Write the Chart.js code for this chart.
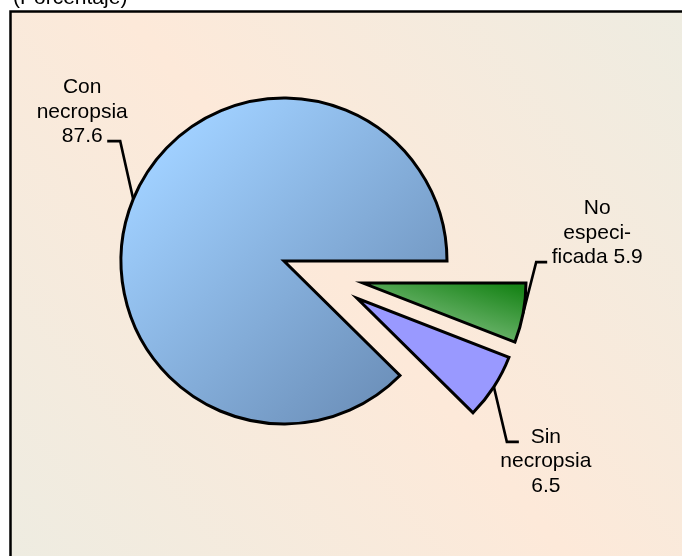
<!DOCTYPE html>
<html>
<head>
<meta charset="utf-8">
<script src="https://cdn.jsdelivr.net/npm/chart.js@4.4.0/dist/chart.umd.min.js"></script>
<style>
  body { margin: 0; background: #fff; }
</style>
</head>
<body>
<canvas id="pie" width="682" height="556"></canvas>
<script>
// Defunciones segun condicion de necropsia (porcentaje)
const categories = ['No especificada', 'Sin necropsia', 'Con necropsia'];
const values = [5.9, 6.5, 87.6];
const labelLines = [
    ['No', 'especi-', 'ficada {v}'],
    ['Sin', 'necropsia', '{v}'],
    ['Con', 'necropsia', '{v}'],
];
const title = '(Porcentaje)';

const FONT = '21px "Liberation Sans", Arial, sans-serif';
const LINE_H = 24.5;

// rebanadas separadas: [distancia px, direccion en grados]
const explode = [[82, 15.6], [82, 27], [0, 0]];

// linea guia: codo relativo al borde de la rebanada, tramo horizontal y centro del texto
const leaders = [
    { elbow: [13, -51], run: 11, text: 50, anchor: 'bottom' },
    { elbow: [13, 55], run: 12, text: 27, anchor: 'top' },
    { elbow: [-13, -58], run: -13, text: -25, anchor: 'bottom' },
];

// relleno: [paradas de color, desde (x,y en radios), hasta]
const fills = [
    [[[0, '#88C488'], [0.55, '#188418'], [1, '#0E7C0E']], [0.3, 0.33], [0.55, -0.5]],
    [[[0, '#9999FF'], [1, '#9999FF']], [0, 0], [1, 0]],
    [[[0, '#A0D0FF'], [1, '#6E92BC']], [-0.7, -0.7], [0.7, 0.7]],
];

function shiftOf(i) {
    const e = explode[i];
    const a = e[1] * Math.PI / 180;
    return { x: Math.cos(a) * e[0], y: Math.sin(a) * e[0] };
}

function sliceFill(c) {
    const i = c.dataIndex;
    const f = fills[i];
    const area = c.chart.chartArea;
    if (!area) return f[0][0][1];
    const r = c.chart.options.radius;
    const s = shiftOf(i);
    const cx = (area.left + area.right) / 2 + s.x;
    const cy = (area.top + area.bottom) / 2 + s.y;
    const g = c.chart.ctx.createLinearGradient(
        cx + f[1][0] * r, cy + f[1][1] * r, cx + f[2][0] * r, cy + f[2][1] * r);
    f[0].forEach(st => g.addColorStop(st[0], st[1]));
    return g;
}

const fondo = {
    id: 'fondo',
    beforeDraw(chart) {
        const { ctx, width, height } = chart;
        ctx.save();
        ctx.fillStyle = '#fff';
        ctx.fillRect(0, 0, width, height);
        const x0 = 10.5, y0 = 11.5;
        const g = ctx.createLinearGradient(width, y0, x0, height);
        g.addColorStop(0, '#EEECE1');
        g.addColorStop(0.5, '#FDE9D9');
        g.addColorStop(1, '#EEECE1');
        ctx.fillStyle = g;
        ctx.fillRect(x0, y0, width + 10, height + 10);
        ctx.lineWidth = 2.5;
        ctx.strokeStyle = '#000';
        ctx.strokeRect(x0, y0, width + 10, height + 10);
        ctx.font = FONT;
        ctx.fillStyle = '#000';
        ctx.textAlign = 'left';
        ctx.textBaseline = 'alphabetic';
        ctx.fillText(title, 13, 4);
        ctx.restore();
    }
};

// mueve las rebanadas pequenas hacia afuera
const separar = {
    id: 'separar',
    beforeDatasetsDraw(chart) {
        const area = chart.chartArea;
        const cx = (area.left + area.right) / 2;
        const cy = (area.top + area.bottom) / 2;
        chart.getDatasetMeta(0).data.forEach((arc, i) => {
            const s = shiftOf(i);
            arc.x = cx + s.x;
            arc.y = cy + s.y;
        });
    }
};

const etiquetas = {
    id: 'etiquetas',
    afterDatasetsDraw(chart) {
        const ctx = chart.ctx;
        const meta = chart.getDatasetMeta(0);
        ctx.save();
        ctx.font = FONT;
        ctx.fillStyle = '#000';
        ctx.strokeStyle = '#000';
        ctx.lineWidth = 2.6;
        ctx.lineJoin = 'miter';
        ctx.textAlign = 'center';
        ctx.textBaseline = 'alphabetic';
        meta.data.forEach((arc, i) => {
            const L = leaders[i];
            const mid = (arc.startAngle + arc.endAngle) / 2;
            const ax = arc.x + Math.cos(mid) * arc.outerRadius;
            const ay = arc.y + Math.sin(mid) * arc.outerRadius;
            const ex = ax + L.elbow[0];
            const ey = ay + L.elbow[1];
            const sx = ex + L.run;
            ctx.beginPath();
            ctx.moveTo(ax, ay);
            ctx.lineTo(ex, ey);
            ctx.lineTo(sx, ey);
            ctx.stroke();

            const lines = labelLines[i].map(s => s.replace('{v}', values[i].toFixed(1)));
            const tx = sx + L.text;
            const yStart = L.anchor === 'top' ? ey + 1 : ey + 1 - (lines.length - 1) * LINE_H;
            lines.forEach((s, k) => ctx.fillText(s, tx, yStart + k * LINE_H));
        });
        ctx.restore();
    }
};

new Chart(document.getElementById('pie'), {
    type: 'pie',
    data: {
        labels: categories,
        datasets: [{
            data: values,
            backgroundColor: sliceFill,
            borderColor: '#000',
            borderWidth: 3,
            borderJoinStyle: 'miter',
        }],
    },
    options: {
        responsive: false,
        animation: false,
        events: [],
        rotation: 90,
        radius: 163,
        layout: { padding: { left: 134, right: 248, top: 111, bottom: 145 } },
        plugins: {
            legend: { display: false },
            tooltip: { enabled: false },
        },
    },
    plugins: [fondo, separar, etiquetas],
});
</script>
</body>
</html>
